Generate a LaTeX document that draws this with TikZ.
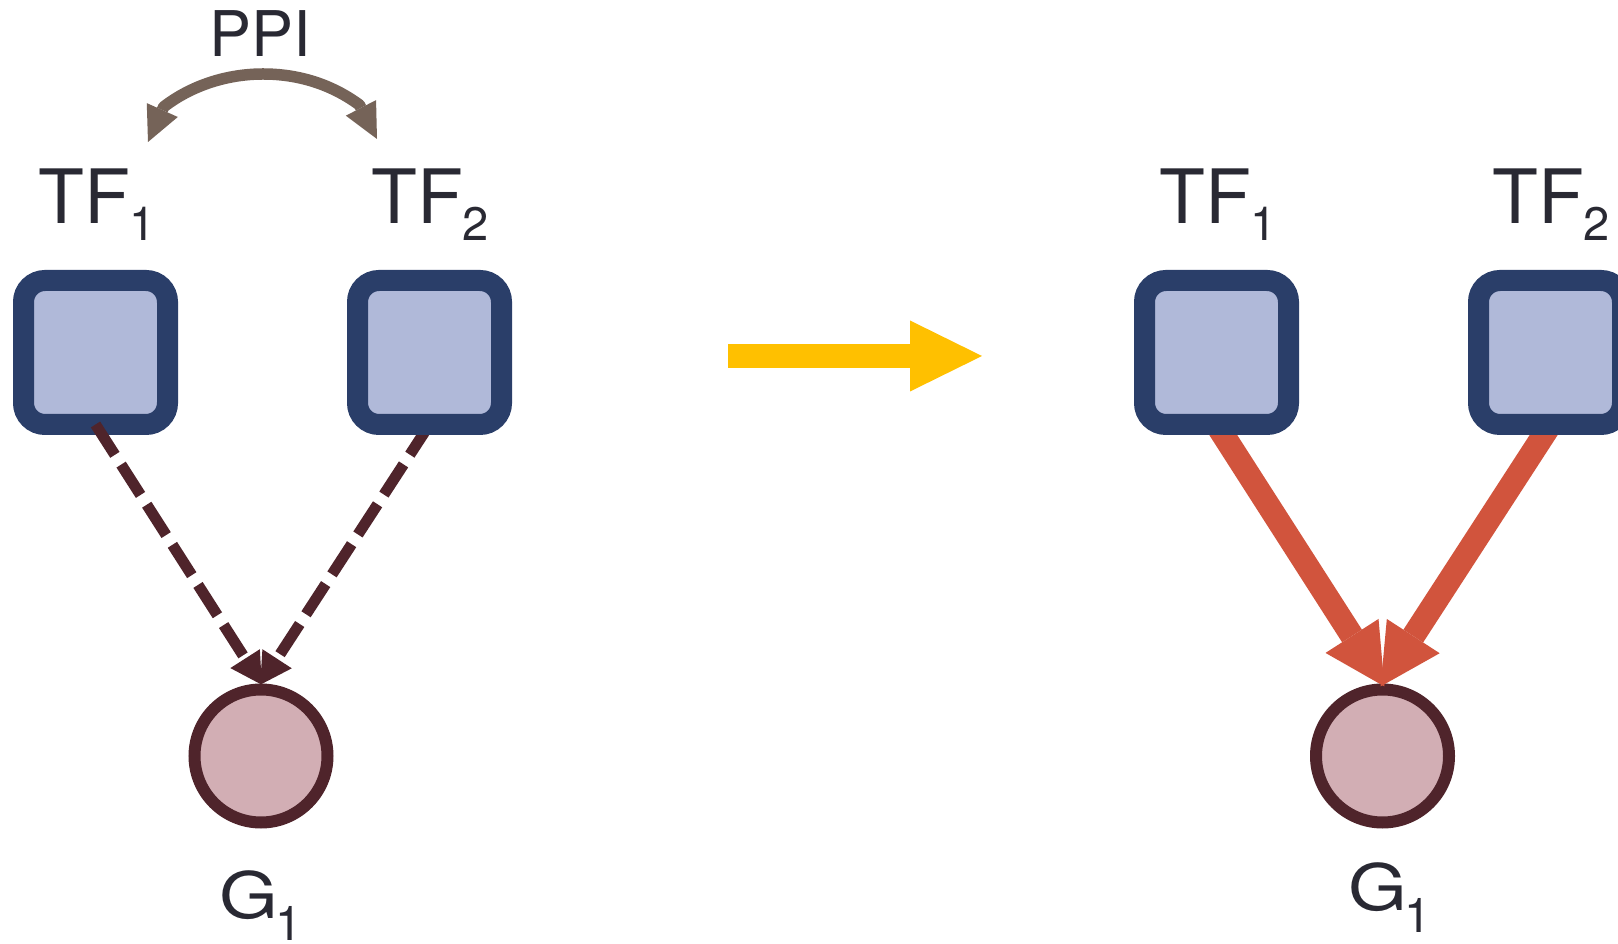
\documentclass[tikz,border=0pt]{standalone}
\usepackage{fontspec}
\setmainfont{TeX Gyre Heros}
\usepackage{graphicx}
\usetikzlibrary{arrows.meta}
\pgfdeclarelayer{bg}
\pgfsetlayers{bg,main}
\definecolor{navy}{HTML}{2A3E69}
\definecolor{boxfill}{HTML}{B0B9D9}
\definecolor{gstroke}{HTML}{4F242B}
\definecolor{gfill}{HTML}{D2AEB4}
\definecolor{redc}{HTML}{D1543D}
\definecolor{ppic}{HTML}{756358}
\definecolor{txt}{HTML}{292933}
\definecolor{yel}{HTML}{FFC000}
\newcommand{\TFlab}[1]{{\fontsize{75}{80}\selectfont TF\raisebox{-17pt}{\fontsize{47}{50}\selectfont #1}}}
\newcommand{\Glab}{{\fontsize{64}{70}\selectfont\scalebox{1.18}[1]{G}\kern-3pt\raisebox{-22pt}{\fontsize{48}{50}\selectfont 1}}}
\begin{document}
\begin{tikzpicture}[x=1pt,y=1pt,
  tfbox/.style={draw=navy, fill=boxfill, line width=21pt, rounded corners=21.5pt,
    minimum width=144pt, minimum height=144pt, inner sep=0pt, outer sep=0pt},
  gnode/.style={circle, draw=gstroke, fill=gfill, line width=12pt, minimum size=133pt, inner sep=0pt},
  lbl/.style={text=txt, inner sep=0pt, outer sep=0pt, anchor=base west},
  dasharrow/.style={draw=gstroke, line width=11pt, dash pattern=on 36pt off 11.6pt,
    -{Triangle[length=31pt,width=35pt,line width=0pt]}, shorten >=-1.5pt},
  redarrow/.style={draw=redc, line width=23.5pt,
    -{Triangle[length=60pt,width=63pt,line width=0pt]}, shorten >=-3.5pt},
  ppiarrow/.style={draw=ppic, line width=11.5pt, line join=round,
    {Triangle[length=35pt,width=34pt,line width=0pt]}-{Triangle[length=35pt,width=34pt,line width=0pt]}},
  bigarrow/.style={draw=yel, line width=24pt, -{Triangle[length=72pt,width=71pt,line width=0pt]}}
]
\useasboundingbox (0,0) rectangle (1618,943);
% boxes
\node[tfbox] (tf1) at (95.5,590.5) {};
\node[tfbox] (tf2) at (429.5,590.5) {};
\node[tfbox] (rtf1) at (1216.5,590.5) {};
\node[tfbox] (rtf2) at (1550.5,590.5) {};
\begin{pgfonlayer}{bg}
  \fill[white] (0,0) rectangle (1618,943);
  \node[gnode] (g1) at (261,187) {};
  \node[gnode] (rg1) at (1382.5,187) {};
  \draw[dasharrow] (tf2.south) -- (g1.north);
  \draw[redarrow] (rtf1.south) -- (rg1.north);
  \draw[redarrow] (rtf2.south) -- (rg1.north);
\end{pgfonlayer}
\draw[dasharrow] (tf1.south) -- (g1.north);
% PPI arc
\coordinate (pL) at (148,801);
\coordinate (bL) at (163.7,836.1);
\coordinate (bR) at (359.4,838.1);
\coordinate (pR) at (377,804);
\draw[ppiarrow] (pL) -- (bL) .. controls (192,858) and (228,869) .. (263,869)
  .. controls (298,869) and (331,859) .. (bR) -- (pR);
% big arrow
\coordinate (ya) at (728,587);
\coordinate (yb) at (982,587);
\draw[bigarrow] (ya) -- (yb);
% labels
\node[lbl, anchor=base] (ppi) at (260,886) {\fontsize{63}{70}\selectfont PPI};
\node[lbl] (ltf1) at (38.3,719) {\TFlab{1}};
\node[lbl] (ltf2) at (371.3,719) {\TFlab{2}};
\node[lbl] (lrtf1) at (1159.3,719) {\TFlab{1}};
\node[lbl] (lrtf2) at (1492.3,719) {\TFlab{2}};
\node[lbl] (lg1) at (219.3,24) {\Glab};
\node[lbl] (lrg1) at (1348.3,33) {\Glab};
\end{tikzpicture}
\end{document}
